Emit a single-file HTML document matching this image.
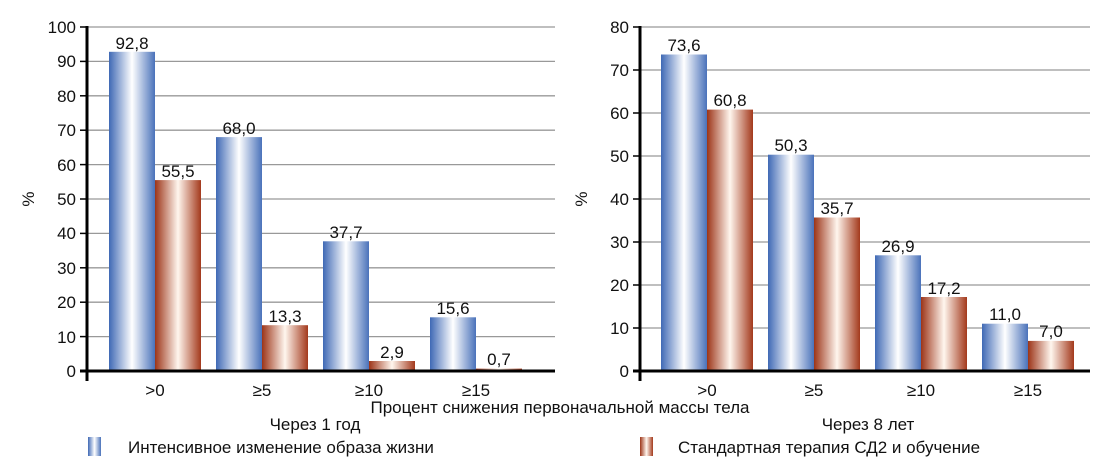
<!DOCTYPE html><html><head><meta charset="utf-8"><style>body{margin:0;background:#fff}svg{display:block}text{font-family:"Liberation Sans",sans-serif;fill:#111}</style></head><body>
<svg width="1109" height="462" viewBox="0 0 1109 462">
<defs>
<linearGradient id="b" x1="0" x2="1"><stop offset="0" stop-color="#3f69b5"/><stop offset="0.5" stop-color="#ffffff"/><stop offset="1" stop-color="#4a72ba"/></linearGradient>
<linearGradient id="r" x1="0" x2="1"><stop offset="0" stop-color="#9c3418"/><stop offset="0.5" stop-color="#fff6ee"/><stop offset="1" stop-color="#a3391c"/></linearGradient>
</defs>
<g stroke="#999" stroke-width="1.3">
<line x1="87" x2="555" y1="27" y2="27"/><line x1="87" x2="555" y1="61.4" y2="61.4"/><line x1="87" x2="555" y1="95.8" y2="95.8"/><line x1="87" x2="555" y1="130.2" y2="130.2"/><line x1="87" x2="555" y1="164.6" y2="164.6"/><line x1="87" x2="555" y1="199" y2="199"/><line x1="87" x2="555" y1="233.4" y2="233.4"/><line x1="87" x2="555" y1="267.8" y2="267.8"/><line x1="87" x2="555" y1="302.2" y2="302.2"/><line x1="87" x2="555" y1="336.6" y2="336.6"/>
<line x1="640" x2="1090" y1="27" y2="27"/><line x1="640" x2="1090" y1="70" y2="70"/><line x1="640" x2="1090" y1="113" y2="113"/><line x1="640" x2="1090" y1="156" y2="156"/><line x1="640" x2="1090" y1="199" y2="199"/><line x1="640" x2="1090" y1="242" y2="242"/><line x1="640" x2="1090" y1="285" y2="285"/><line x1="640" x2="1090" y1="328" y2="328"/>
</g>
<rect x="109" y="51.8" width="46" height="319.2" fill="url(#b)"/><rect x="155" y="180.1" width="46" height="190.9" fill="url(#r)"/>
<rect x="216" y="137.1" width="46" height="233.9" fill="url(#b)"/><rect x="262" y="325.2" width="46" height="45.8" fill="url(#r)"/>
<rect x="323" y="241.3" width="46" height="129.7" fill="url(#b)"/><rect x="369" y="361" width="46" height="10" fill="url(#r)"/>
<rect x="430" y="317.3" width="46" height="53.7" fill="url(#b)"/><rect x="476" y="368.6" width="46" height="2.4" fill="url(#r)"/>
<rect x="661" y="54.5" width="46" height="316.5" fill="url(#b)"/><rect x="707" y="109.6" width="46" height="261.4" fill="url(#r)"/>
<rect x="768" y="154.7" width="46" height="216.3" fill="url(#b)"/><rect x="814" y="217.5" width="46" height="153.5" fill="url(#r)"/>
<rect x="875" y="255.3" width="46" height="115.7" fill="url(#b)"/><rect x="921" y="297" width="46" height="74" fill="url(#r)"/>
<rect x="982" y="323.7" width="46" height="47.3" fill="url(#b)"/><rect x="1028" y="340.9" width="46" height="30.1" fill="url(#r)"/>
<g stroke="#000" stroke-width="3">
<line x1="87" y1="26" x2="87" y2="381"/><line x1="80" y1="371" x2="555" y2="371"/>
<line x1="640" y1="26" x2="640" y2="381"/><line x1="633" y1="371" x2="1090" y2="371"/>
</g>
<g stroke="#000" stroke-width="1.5">
<line x1="80" x2="87" y1="27" y2="27"/><line x1="80" x2="87" y1="61.4" y2="61.4"/><line x1="80" x2="87" y1="95.8" y2="95.8"/><line x1="80" x2="87" y1="130.2" y2="130.2"/><line x1="80" x2="87" y1="164.6" y2="164.6"/><line x1="80" x2="87" y1="199" y2="199"/><line x1="80" x2="87" y1="233.4" y2="233.4"/><line x1="80" x2="87" y1="267.8" y2="267.8"/><line x1="80" x2="87" y1="302.2" y2="302.2"/><line x1="80" x2="87" y1="336.6" y2="336.6"/>
<line x1="633" x2="640" y1="27" y2="27"/><line x1="633" x2="640" y1="70" y2="70"/><line x1="633" x2="640" y1="113" y2="113"/><line x1="633" x2="640" y1="156" y2="156"/><line x1="633" x2="640" y1="199" y2="199"/><line x1="633" x2="640" y1="242" y2="242"/><line x1="633" x2="640" y1="285" y2="285"/><line x1="633" x2="640" y1="328" y2="328"/>
</g>
<g font-size="17" text-anchor="end">
<text x="76" y="33">100</text><text x="76" y="67">90</text><text x="76" y="102">80</text><text x="76" y="136">70</text><text x="76" y="171">60</text><text x="76" y="205">50</text><text x="76" y="239">40</text><text x="76" y="274">30</text><text x="76" y="308">20</text><text x="76" y="343">10</text><text x="76" y="377">0</text>
<text x="629" y="33">80</text><text x="629" y="76">70</text><text x="629" y="119">60</text><text x="629" y="162">50</text><text x="629" y="205">40</text><text x="629" y="248">30</text><text x="629" y="291">20</text><text x="629" y="334">10</text><text x="629" y="377">0</text>
</g>
<g font-size="17" text-anchor="middle">
<text x="132" y="49">92,8</text><text x="178" y="177">55,5</text><text x="239" y="134">68,0</text><text x="285" y="322">13,3</text><text x="346" y="238">37,7</text><text x="392" y="358">2,9</text><text x="453" y="314">15,6</text><text x="499" y="365">0,7</text>
<text x="684" y="51">73,6</text><text x="730" y="106">60,8</text><text x="791" y="151">50,3</text><text x="837" y="214">35,7</text><text x="898" y="252">26,9</text><text x="944" y="294">17,2</text><text x="1005" y="320">11,0</text><text x="1051" y="337">7,0</text>
<text x="155" y="396">&gt;0</text><text x="262" y="396">≥5</text><text x="369" y="396">≥10</text><text x="476" y="396">≥15</text>
<text x="707" y="396">&gt;0</text><text x="814" y="396">≥5</text><text x="921" y="396">≥10</text><text x="1028" y="396">≥15</text>
<text x="560" y="413">Процент снижения первоначальной массы тела</text>
<text x="315" y="430">Через 1 год</text><text x="868" y="430">Через 8 лет</text>
<text transform="translate(34,199) rotate(-90)">%</text><text transform="translate(587,199) rotate(-90)">%</text>
</g>
<rect x="88" y="437" width="13" height="19" fill="url(#b)"/><rect x="640" y="437" width="13" height="19" fill="url(#r)"/>
<text x="128" y="453" font-size="17">Интенсивное изменение образа жизни</text>
<text x="678" y="453" font-size="17">Стандартная терапия СД2 и обучение</text>
</svg></body></html>
